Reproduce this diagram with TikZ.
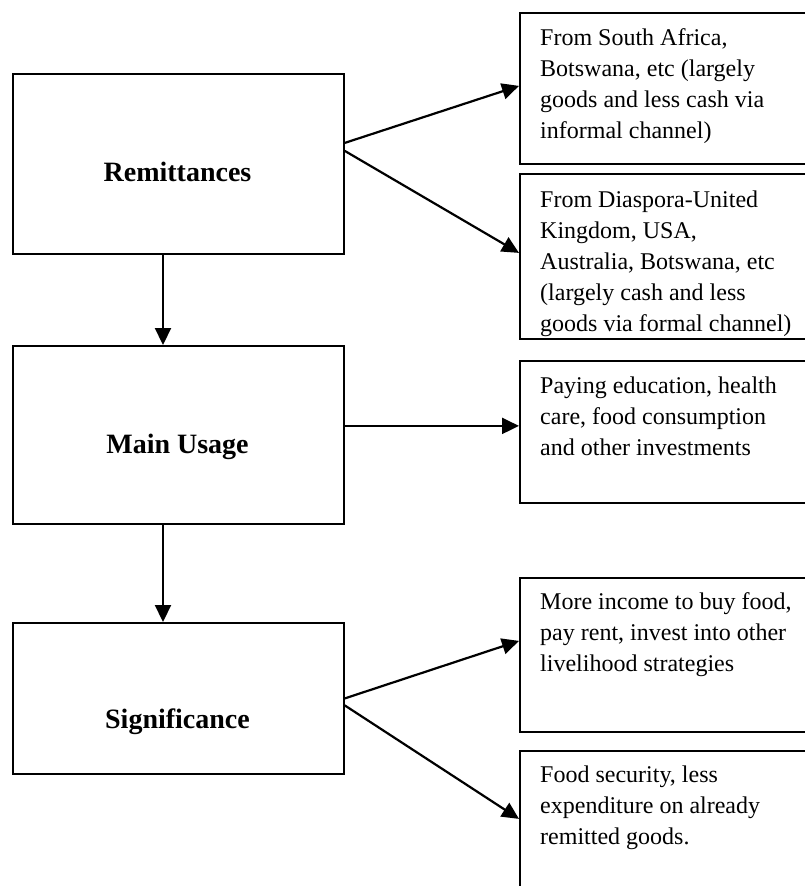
\documentclass[tikz,border=0pt]{standalone}
\usepackage{fontspec}
\setmainfont{Liberation Serif}
\usetikzlibrary{arrows.meta}
\begin{document}
\begin{tikzpicture}[x=1pt,y=-1pt,
  box/.style={draw, line width=1.8pt, rectangle, inner sep=0pt, anchor=north west},
  leftbox/.style={box, minimum width=331pt},
  rightbox/.style={box, minimum width=340pt},
  headlabel/.style={font=\fontsize{28}{32}\selectfont\bfseries, anchor=base, inner sep=0pt},
  note/.style={font=\fontsize{24}{31}\selectfont, align=left, anchor=north west, inner sep=0pt},
  link/.style={line width=2.2pt, -{Triangle[length=17pt,width=16pt]}}]
\useasboundingbox (0,0) rectangle (805,886);
\clip (0,0) rectangle (805,886);

% left column
\node[leftbox, minimum height=180pt] (rem) at (12,73) {};
\node[leftbox, minimum height=178pt] (use) at (12,345) {};
\node[leftbox, minimum height=151pt] (sig) at (12,622) {};
\node[headlabel] (lrem) at ([shift={(165.5,108)}]rem.north west) {Remittances};
\node[headlabel] (luse) at ([shift={(165.5,108)}]use.north west) {Main Usage};
\node[headlabel] (lsig) at ([shift={(165.5,106)}]sig.north west) {Significance};

% right column
\node[rightbox, minimum height=151pt] (b1) at (519,12) {};
\node[rightbox, minimum height=165pt] (b2) at (519,173) {};
\node[rightbox, minimum height=142pt] (b3) at (519,360) {};
\node[rightbox, minimum height=154pt] (b4) at (519,577) {};
\node[rightbox, minimum height=150pt] (b5) at (519,750) {};

\node[note] (t1) at ([shift={(21,16)}]b1.north west)
  {From South Africa,\\Botswana, etc (largely\\goods and less cash via\\informal channel)};
\node[note] (t2) at ([shift={(21,17.5)}]b2.north west)
  {From Diaspora-United\\Kingdom, USA,\\Australia, Botswana, etc\\(largely cash and less\\goods via formal channel)};
\node[note] (t3) at ([shift={(21,16.5)}]b3.north west)
  {Paying education, health\\care, food consumption\\and other investments};
\node[note] (t4) at ([shift={(21,15)}]b4.north west)
  {More income to buy food,\\pay rent, invest into other\\livelihood strategies};
\node[note] (t5) at ([shift={(21,15.5)}]b5.north west)
  {Food security, less\\expenditure on already\\remitted goods.};

% connectors
\draw[link] ([yshift=21pt]rem.east) -- ([yshift=2.5pt]b1.west);
\draw[link] ([yshift=13pt]rem.east) -- ([yshift=3.5pt]b2.west);
\draw[link] ([xshift=151pt]rem.south west) -- ([xshift=151pt]use.north west);

\coordinate (u) at ([yshift=9pt]use.east);
\draw[link] (u) -- (u -| b3.west);
\draw[link] ([xshift=151pt]use.south west) -- ([xshift=151pt]sig.north west);

\draw[link] ([yshift=0pt]sig.east) -- ([yshift=14pt]b4.west);
\draw[link] ([yshift=-7pt]sig.east) -- ([yshift=7pt]b5.west);
\end{tikzpicture}
\end{document}
